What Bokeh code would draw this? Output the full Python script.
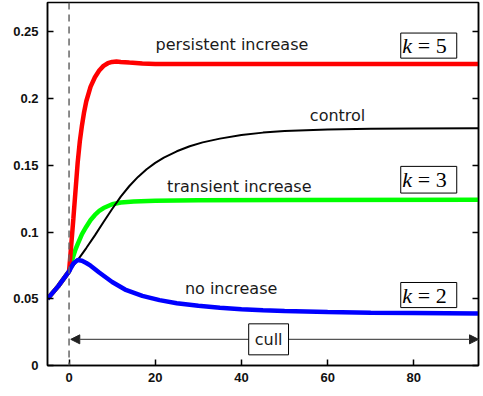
from bokeh.plotting import figure
from bokeh.models import (Range1d, LinearAxis, FixedTicker, CustomJSTickFormatter,
                          Span, Label, BoxAnnotation, Arrow, NormalHead)
from bokeh.embed import file_html
from bokeh.resources import INLINE

# ---- data ----
t_red = [-5, -2.5, 0, 0.5, 1, 1.5, 2, 2.5, 3, 3.5, 4, 5, 6, 7, 8, 9, 10, 11, 12, 14, 17, 20, 30, 50, 95]
red = [0.05, 0.0595, 0.0705, 0.09, 0.11, 0.131, 0.152, 0.168, 0.18, 0.19, 0.198, 0.209, 0.216, 0.221,
       0.2245, 0.2265, 0.2275, 0.2278, 0.2275, 0.227, 0.2263, 0.226, 0.226, 0.226, 0.226]

t_green = [-5, -2.5, 0, 0.5, 1, 1.5, 2, 3, 4, 5, 6, 7, 8, 10, 12, 15, 20, 30, 50, 95]
green = [0.05, 0.0595, 0.0705, 0.077, 0.082, 0.087, 0.091, 0.0985, 0.104, 0.109, 0.1128, 0.1158,
         0.118, 0.1208, 0.1221, 0.1229, 0.1234, 0.1238, 0.1241, 0.1242]

t_black = [-5, -2.5, 0, 2, 4, 6, 8, 10, 12, 14, 16, 18, 20, 22, 25, 28, 31, 35, 40, 45, 50, 60, 70, 80, 95]
black = [0.05, 0.0595, 0.0705, 0.079, 0.088, 0.0975, 0.1075, 0.1173, 0.1265, 0.1345, 0.1413, 0.147,
         0.1518, 0.1558, 0.1605, 0.1643, 0.1672, 0.170, 0.1727, 0.1745, 0.1757, 0.1769, 0.1774,
         0.1776, 0.1777]

t_blue = [-5, -2.5, 0, 1, 2, 3, 4, 5, 7, 10, 13, 17, 21, 25, 30, 35, 40, 45, 50, 60, 70, 80, 95]
blue = [0.05, 0.0595, 0.0705, 0.0765, 0.079, 0.0785, 0.0768, 0.0748, 0.0697, 0.0626, 0.0569, 0.0522,
        0.049, 0.0467, 0.0447, 0.0433, 0.0422, 0.0414, 0.0408, 0.0401, 0.0396, 0.0393, 0.0389]

x_ticks = [0, 20, 40, 60, 80]
y_ticks = [0, 0.05, 0.1, 0.15, 0.2, 0.25]

curve_labels = ["persistent increase", "control", "transient increase", "no increase"]
curve_label_x = [37.8, 62.3, 39.5, 37.6]
curve_label_y = [0.2408, 0.1874, 0.1342, 0.0580]

k_values = ["5", "3", "2"]
k_box_top = [0.2491, 0.1492, 0.0622]
k_box_bottom = [0.2303, 0.1292, 0.0434]
k_box_left, k_box_right = 76.96, 89.95
k_text_x, eq_text_x = 77.3, 80.9

cull_y = 0.0196
cull_label_x = 46.3

# ---- figure ----
p = figure(width=483, height=396, x_range=Range1d(-5, 95), y_range=Range1d(0, 0.272),
           output_backend="svg", toolbar_location=None,
           min_border_left=47, min_border_right=5, min_border_top=2, min_border_bottom=31)
p.grid.visible = False
p.outline_line_color = "black"
p.outline_line_width = 1.5
p.background_fill_color = "white"
p.border_fill_color = "white"

tick_font = "Liberation Sans"
for ax in (p.xaxis[0], p.yaxis[0]):
    ax.major_tick_in = 6
    ax.major_tick_out = 0
    ax.minor_tick_line_color = None
    ax.axis_line_color = "black"
    ax.axis_line_width = 1.5
    ax.major_tick_line_color = "black"
    ax.major_tick_line_width = 1.5
    ax.major_label_text_font = tick_font
    ax.major_label_text_font_style = "bold"
    ax.major_label_text_font_size = "13px"
    ax.major_label_text_color = "#111111"
    ax.formatter = CustomJSTickFormatter(code="return tick.toString();")
p.xaxis[0].ticker = FixedTicker(ticks=x_ticks)
p.yaxis[0].ticker = FixedTicker(ticks=y_ticks)
p.xaxis[0].major_label_standoff = 7
p.yaxis[0].major_label_standoff = 9

right_ax = LinearAxis(ticker=FixedTicker(ticks=y_ticks),
                      formatter=CustomJSTickFormatter(code="return '';"))
right_ax.major_tick_in = 6
right_ax.major_tick_out = 0
right_ax.minor_tick_line_color = None
right_ax.axis_line_color = "black"
right_ax.axis_line_width = 1.5
right_ax.major_tick_line_width = 1.5
right_ax.major_label_standoff = 0
p.add_layout(right_ax, "right")

# cull start marker
p.add_layout(Span(location=0, dimension="height", line_color="#666666", line_width=1.5,
                  line_dash="7 5"))

# curves
p.line(t_green, green, line_color="#00ff00", line_width=4.5)
p.line(t_red, red, line_color="#ff0000", line_width=4.5)
p.line(t_black, black, line_color="black", line_width=2)
p.line(t_blue, blue, line_color="#0000ff", line_width=4.5)

# curve labels
for txt, lx, ly in zip(curve_labels, curve_label_x, curve_label_y):
    p.add_layout(Label(x=lx, y=ly, text=txt, text_align="center", text_baseline="middle",
                       text_font="DejaVu Sans", text_font_size="16px", text_color="#1a1a1a"))

# k boxes
for kv, top, bot in zip(k_values, k_box_top, k_box_bottom):
    p.add_layout(BoxAnnotation(left=k_box_left, right=k_box_right, top=top, bottom=bot,
                               fill_color="white", fill_alpha=1.0, line_color="black",
                               line_alpha=1.0, line_width=1, level="annotation"))
    mid = (top + bot) / 2
    p.add_layout(Label(x=k_text_x, y=mid, text="k", text_align="left", text_baseline="middle",
                       text_font="Liberation Serif", text_font_style="italic",
                       text_font_size="22px", text_color="black"))
    p.add_layout(Label(x=eq_text_x, y=mid, text="= " + kv, text_align="left",
                       text_baseline="middle", text_font="Liberation Serif",
                       text_font_size="22px", text_color="black"))

# cull arrow
p.add_layout(Arrow(start=NormalHead(size=9, fill_color="#222222", line_color="#222222"),
                   end=NormalHead(size=9, fill_color="#222222", line_color="#222222"),
                   x_start=0.4, y_start=cull_y, x_end=95, y_end=cull_y,
                   line_color="#555555", line_width=1.2))
p.add_layout(Label(x=cull_label_x, y=cull_y, text="cull", text_align="center",
                   text_baseline="middle", text_font="DejaVu Sans", text_font_size="16px",
                   text_color="#1a1a1a", background_fill_color="white",
                   border_line_color="black", border_line_width=1, padding=6))

open("out.html", "w").write(file_html(p, INLINE))
